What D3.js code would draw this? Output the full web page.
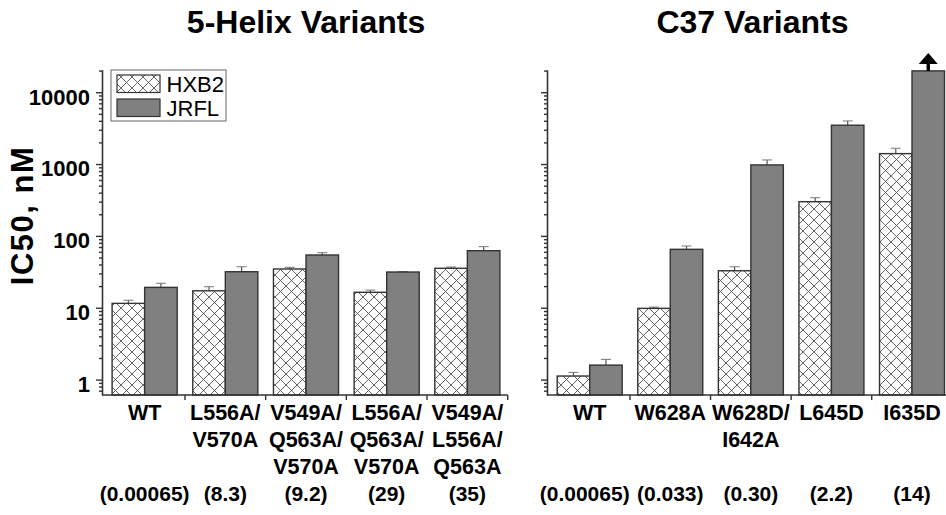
<!DOCTYPE html>
<html>
<head>
<meta charset="utf-8">
<script src="https://cdn.jsdelivr.net/npm/d3@7"></script>
<style>
  body { margin: 0; background: #fff; }
  text { font-family: "Liberation Sans", Arial, sans-serif; fill: #000; }
</style>
</head>
<body>
<script>
// values (IC50 in nM, log scale)
const series = ["HXB2", "JRFL"]
const yTicks = [1, 10, 100, 1000, 10000]

const helixCats = [["WT"], ["L556A/", "V570A"], ["V549A/", "Q563A/", "V570A"], ["L556A/", "Q563A/", "V570A"], ["V549A/", "L556A/", "Q563A"]]
const helixRatios = ["(0.00065)", "(8.3)", "(9.2)", "(29)", "(35)"]
const helixHXB2 = [11.5, 17.2, 34.6, 16.4, 35.4]
const helixHXB2Err = [12.7, 19.6, 36.5, 17.6, 36.9]
const helixJRFL = [19.2, 31.7, 54.2, 31.4, 62.2]
const helixJRFLErr = [21.9, 37.2, 58.3, 31.8, 70.8]

const c37Cats = [["WT"], ["W628A"], ["W628D/", "I642A"], ["L645D"], ["I635D"]]
const c37Ratios = ["(0.00065)", "(0.033)", "(0.30)", "(2.2)", "(14)"]
const c37HXB2 = [1.12, 9.8, 32.7, 299, 1396]
const c37HXB2Err = [1.26, 10.2, 37.2, 340, 1660]
const c37JRFL = [1.59, 65, 972, 3470, 19800]
const c37JRFLErr = [1.91, 72.3, 1140, 3980, 19800]
const c37Censored = [false, false, false, false, true]   // ">" arrow on the JRFL bar

const width = 946, height = 515

const svg = d3.select("body").append("svg")
  .attr("width", width)
  .attr("height", height)

const defs = svg.append("defs")
const pat = defs.append("pattern")
  .attr("id", "hatch")
  .attr("patternUnits", "userSpaceOnUse")
  .attr("width", 11).attr("height", 11)
pat.append("rect").attr("width", 11).attr("height", 11).attr("fill", "#fff")
pat.append("path")
  .attr("d", "M0,0L11,11M11,0L0,11M-1,10L1,12M10,-1L12,1")
  .attr("stroke", "#555").attr("stroke-width", 0.9)

const y = d3.scaleLog().domain([0.61, 20500]).range([395, 69.8])

function minorTicks() {
  var out = []
  for (var e = -1; e <= 4; e++) {
    for (var m = 2; m <= 9; m++) {
      var v = m * Math.pow(10, e)
      if (v >= y.domain()[0] && v <= y.domain()[1]) out.push(v)
    }
  }
  return out
}

function drawPanel(cfg) {
  var g = svg.append("g")
  var x0 = d3.scaleBand().domain(d3.range(cfg.cats.length)).range(cfg.xRange).padding(0)
  var x1 = d3.scaleBand().domain(series).range([0, x0.bandwidth()]).paddingInner(0).paddingOuter(0.24)

  // title
  g.append("text")
    .attr("x", cfg.titleX).attr("y", 33)
    .attr("text-anchor", "middle")
    .style("font-size", "32px").style("font-weight", "bold")
    .text(cfg.title)

  // bars
  var rows = cfg.cats.map(function(c, i) {
    return [
      {i: i, s: "HXB2", v: cfg.hxb2[i], e: cfg.hxb2Err[i]},
      {i: i, s: "JRFL", v: cfg.jrfl[i], e: cfg.jrflErr[i]}
    ]
  })
  var flat = [].concat.apply([], rows)

  // error bars (upper only)
  var eb = g.selectAll(".err").data(flat.filter(function(d) { return d.e > d.v })).enter().append("g")
  eb.append("line")
    .attr("x1", function(d) { return x0(d.i) + x1(d.s) + x1.bandwidth() / 2 })
    .attr("x2", function(d) { return x0(d.i) + x1(d.s) + x1.bandwidth() / 2 })
    .attr("y1", function(d) { return y(d.v) })
    .attr("y2", function(d) { return y(d.e) })
    .attr("stroke", "#555").attr("stroke-width", 1.2)
  eb.append("line")
    .attr("x1", function(d) { return x0(d.i) + x1(d.s) + x1.bandwidth() / 2 - 5 })
    .attr("x2", function(d) { return x0(d.i) + x1(d.s) + x1.bandwidth() / 2 + 5 })
    .attr("y1", function(d) { return y(d.e) })
    .attr("y2", function(d) { return y(d.e) })
    .attr("stroke", "#777").attr("stroke-width", 1)

  g.selectAll(".bar").data(flat).enter().append("rect")
    .attr("x", function(d) { return x0(d.i) + x1(d.s) })
    .attr("width", x1.bandwidth())
    .attr("y", function(d) { return y(d.v) })
    .attr("height", function(d) { return y.range()[0] - y(d.v) })
    .attr("fill", function(d) { return d.s === "HXB2" ? "url(#hatch)" : "#808080" })
    .attr("stroke", "#333").attr("stroke-width", 1.4)

  // arrows for values above the range
  if (cfg.censored) {
    flat.filter(function(d) { return d.s === "JRFL" && cfg.censored[d.i] }).forEach(function(d) {
      var cx = x0(d.i) + x1("JRFL") + x1.bandwidth() / 2
      var top = y(d.v)
      g.append("rect").attr("x", cx - 1.7).attr("y", top - 8).attr("width", 3.4).attr("height", 8).attr("fill", "#000")
      g.append("path")
        .attr("d", "M" + (cx - 9.5) + "," + (top - 7) + "L" + (cx + 9.5) + "," + (top - 7) + "L" + cx + "," + (top - 18) + "Z")
        .attr("fill", "#000")
    })
  }

  // y axis
  var ya = g.append("g").attr("transform", "translate(" + cfg.axisX + ",0)")
  ya.call(d3.axisLeft(y).tickValues(yTicks).tickSize(6).tickSizeOuter(0)
    .tickFormat(cfg.showLabels ? d3.format("d") : ""))
  ya.selectAll(".tick text")
    .attr("x", -12).attr("dy", "0.72em").attr("y", -4)
    .style("font-size", "22px").style("font-weight", "bold")
    .style("font-family", "'Liberation Sans', Arial, sans-serif").attr("fill", "#000")
  var yb = g.append("g").attr("transform", "translate(" + cfg.axisX + ",0)")
  yb.call(d3.axisLeft(y).tickValues(minorTicks()).tickSize(3).tickSizeOuter(0).tickFormat(""))
  yb.select(".domain").remove()
  g.selectAll(".domain").attr("stroke", "#333").attr("stroke-width", 1.6)
  g.selectAll(".tick line").attr("stroke", "#333").attr("stroke-width", 1.4)

  // x axis
  var base = y.range()[0]
  g.append("line")
    .attr("x1", cfg.axisX).attr("x2", cfg.xRange[1])
    .attr("y1", base).attr("y2", base)
    .attr("stroke", "#333").attr("stroke-width", 1.6)
  g.selectAll(".xtick").data(d3.range(1, cfg.cats.length + 1)).enter().append("line")
    .attr("x1", function(d) { return cfg.xRange[0] + d * x0.step() })
    .attr("x2", function(d) { return cfg.xRange[0] + d * x0.step() })
    .attr("y1", base).attr("y2", base + 5)
    .attr("stroke", "#333").attr("stroke-width", 1.4)

  // category labels
  cfg.cats.forEach(function(lines, i) {
    var cx = x0(i) + x0.bandwidth() / 2
    var t = g.append("text").attr("text-anchor", "middle")
      .style("font-size", "21.5px").style("font-weight", "bold")
    lines.forEach(function(l, k) {
      t.append("tspan").attr("x", cx).attr("y", 420 + k * 27).text(l)
    })
    g.append("text").attr("x", cx + (i === 0 ? cfg.firstRatioShift : 0)).attr("y", 500.5)
      .attr("text-anchor", "middle")
      .style("font-size", "21px").style("font-weight", "bold")
      .text(cfg.ratios[i])
  })
}

drawPanel({
  title: "5-Helix Variants", titleX: 306,
  cats: helixCats, ratios: helixRatios,
  hxb2: helixHXB2, hxb2Err: helixHXB2Err, jrfl: helixJRFL, jrflErr: helixJRFLErr,
  xRange: [104.3, 507.7], axisX: 102, showLabels: true, firstRatioShift: 0
})

drawPanel({
  title: "C37 Variants", titleX: 752.5,
  cats: c37Cats, ratios: c37Ratios,
  hxb2: c37HXB2, hxb2Err: c37HXB2Err, jrfl: c37JRFL, jrflErr: c37JRFLErr,
  censored: c37Censored,
  xRange: [549.4, 952.3], axisX: 547, showLabels: false, firstRatioShift: -5
})

// y axis title
svg.append("text")
  .attr("transform", "translate(33,215.5) rotate(-90)")
  .attr("text-anchor", "middle")
  .style("font-size", "31px").style("font-weight", "bold")
  .style("letter-spacing", "1.5px")
  .text("IC50, nM")

// legend
const leg = svg.append("g")
leg.append("rect").attr("x", 111).attr("y", 70).attr("width", 115).attr("height", 51)
  .attr("fill", "#fff").attr("stroke", "#666").attr("stroke-width", 1)
series.forEach(function(s, i) {
  leg.append("rect")
    .attr("x", 117).attr("y", 75 + i * 24).attr("width", 43).attr("height", 17.5)
    .attr("fill", s === "HXB2" ? "url(#hatch)" : "#808080")
    .attr("stroke", "#333").attr("stroke-width", 1.2)
  leg.append("text")
    .attr("x", 166.5).attr("y", 91.7 + i * 24.5)
    .style("font-size", "22px")
    .text(s)
})
</script>
</body>
</html>
